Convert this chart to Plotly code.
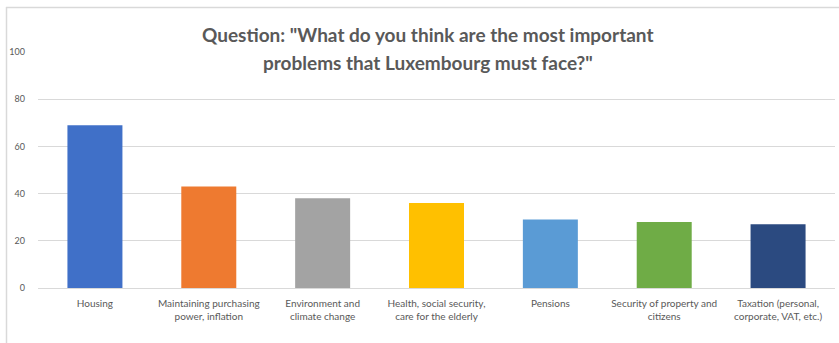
import plotly.graph_objects as go

categories = [
    "Housing",
    "Maintaining purchasing<br>power, inflation",
    "Environment and<br>climate change",
    "Health, social security,<br>care for the elderly",
    "Pensions",
    "Security of property and<br>citizens",
    "Taxation (personal,<br>corporate, VAT, etc.)",
]
values = [69, 43, 38, 36, 29, 28, 27]
colors = ["#4070c8", "#ee7a30", "#a3a3a3", "#ffc000", "#5a9bd5", "#6fac46", "#2b4a80"]
y_ticks = [0, 20, 40, 60, 80, 100]
title_lines = ['Question: "What do you think are the most important',
               'problems that Luxembourg must face?"']

W, H = 839, 343
L, R, T, B = 38, 4, 52, 55
pw, ph = W - L - R, H - T - B

def px_x(px):
    return (px - L) / pw

def px_y(py):
    return (H - B - py) / ph

fig = go.Figure()
fig.add_trace(go.Bar(
    x=categories, y=values,
    marker=dict(color=colors, line=dict(width=0)),
    hoverinfo="x+y",
))

fig.update_layout(
    width=W, height=H,
    margin=dict(l=L, r=R, t=T, b=B),
    paper_bgcolor="white", plot_bgcolor="white",
    bargap=0.517,
    showlegend=False,
    font=dict(family="Lato, Liberation Sans, sans-serif", color="#595959"),
    xaxis=dict(
        showgrid=False, showline=True, linecolor="#d9d9d9", linewidth=1,
        tickfont=dict(size=10, color="#595959"), ticks="", tickangle=0,
        ticklabelstandoff=6,
    ),
    yaxis=dict(
        range=[0, 100], tickvals=y_ticks, showgrid=True, gridcolor="#d9d9d9",
        gridwidth=1, zeroline=False, showline=False, ticks="",
        tickfont=dict(size=9, color="#595959"), ticklabelstandoff=12,
    ),
    shapes=[
        dict(type="line", xref="paper", yref="paper",
             x0=px_x(6), x1=px_x(W + 2), y0=px_y(7.5), y1=px_y(7.5),
             line=dict(color="#d9d9d9", width=1.5)),
        dict(type="line", xref="paper", yref="paper",
             x0=px_x(6.5), x1=px_x(6.5), y0=px_y(7), y1=px_y(H + 2),
             line=dict(color="#d9d9d9", width=1.5)),
    ],
)

for i, (line, py) in enumerate(zip(title_lines, [35, 62])):
    fig.add_annotation(
        text=f"<b>{line}</b>", xref="paper", yref="paper",
        x=px_x(428), y=px_y(py), xanchor="center", yanchor="middle",
        showarrow=False, font=dict(size=19, color="#595959",
                                   family="Lato, Open Sans, sans-serif"),
    )

fig.write_html("out.html")
